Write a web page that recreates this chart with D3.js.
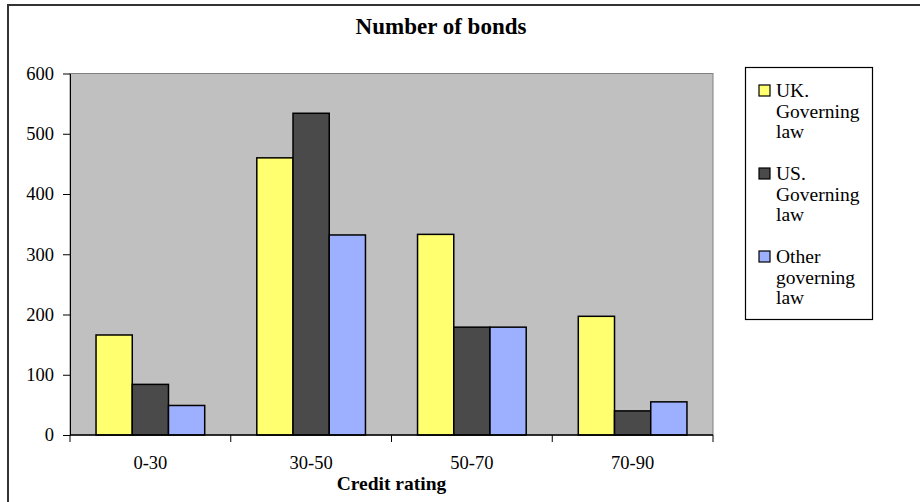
<!DOCTYPE html>
<html lang="en">
<head>
    <meta charset="UTF-8">
    <title>Number of bonds</title>
    <script src="https://d3js.org/d3.v7.min.js"></script>
    <style>
        body { margin: 0; background: #fff; }
        text { font-family: "Liberation Serif", "Times New Roman", serif; fill: #000; }
    </style>
</head>
<body>
    <svg id="chart" width="920" height="502"></svg>

    <script>
        // Data
        const categories = ["0-30", "30-50", "50-70", "70-90"];
        const seriesKeys = ["uk", "us", "other"];
        const seriesLabels = [
            ["UK.", "Governing", "law"],
            ["US.", "Governing", "law"],
            ["Other", "governing", "law"]
        ];
        const ukValues = [166, 460, 333, 197];
        const usValues = [84, 534, 179, 40];
        const otherValues = [49, 332, 179, 55];
        const yTicks = [0, 100, 200, 300, 400, 500, 600];

        const valuesByKey = { uk: ukValues, us: usValues, other: otherValues };
        const fills = { uk: "#ffff70", us: "#4a4a4a", other: "#9db0ff" };

        const svg = d3.select("#chart");

        // outer frame (only top and left edges are visible)
        svg.append("rect")
            .attr("x", 8).attr("y", 5)
            .attr("width", 1000).attr("height", 1000)
            .attr("fill", "none")
            .attr("stroke", "#333")
            .attr("stroke-width", 2);

        const plot = { left: 70, right: 713, top: 73.5, bottom: 435 };

        const y = d3.scaleLinear()
            .domain([0, 600])
            .range([plot.bottom, plot.top]);

        const pad = 0.324;
        const x0 = d3.scaleBand()
            .domain(categories)
            .range([plot.left, plot.right])
            .paddingInner(pad)
            .paddingOuter(pad / 2);

        const x1 = d3.scaleBand()
            .domain(seriesKeys)
            .range([0, x0.bandwidth()]);

        // plot area
        svg.append("rect")
            .attr("x", plot.left)
            .attr("y", plot.top)
            .attr("width", plot.right - plot.left)
            .attr("height", plot.bottom - plot.top)
            .attr("fill", "#c0c0c0")
            .attr("stroke", "#808080")
            .attr("stroke-width", 1);

        // bars
        const groups = svg.append("g")
            .selectAll("g")
            .data(categories)
            .enter().append("g")
            .attr("transform", d => `translate(${x0(d)},0)`);

        groups.selectAll("rect")
            .data((c, i) => seriesKeys.map(k => ({ key: k, value: valuesByKey[k][i] })))
            .enter().append("rect")
            .attr("x", d => x1(d.key))
            .attr("y", d => y(d.value))
            .attr("width", x1.bandwidth())
            .attr("height", d => y(0) - y(d.value))
            .attr("fill", d => fills[d.key])
            .attr("stroke", "#000")
            .attr("stroke-width", 1.5);

        // y axis
        const yAxis = d3.axisLeft(y)
            .tickValues(yTicks)
            .tickSize(7)
            .tickPadding(9)
            .tickSizeOuter(0);

        const gy = svg.append("g")
            .attr("transform", `translate(${plot.left},0)`)
            .call(yAxis);
        gy.selectAll("text").style("font-size", "18.5px");
        gy.select(".domain").attr("stroke", "#000");

        // x axis: labels centred on bands, ticks on band boundaries
        const xAxis = d3.axisBottom(x0).tickSize(0).tickPadding(21);
        const gx = svg.append("g")
            .attr("transform", `translate(0,${plot.bottom})`)
            .call(xAxis);
        gx.select(".domain").remove();
        gx.selectAll("text").style("font-size", "18.5px");

        const boundaries = categories.map(c => x0(c) - x0.step() * pad / 2).concat([plot.right]);
        svg.append("line")
            .attr("x1", plot.left).attr("x2", plot.right)
            .attr("y1", plot.bottom).attr("y2", plot.bottom)
            .attr("stroke", "#000").attr("stroke-width", 1.5);
        svg.append("g")
            .selectAll("line")
            .data(boundaries)
            .enter().append("line")
            .attr("x1", d => d).attr("x2", d => d)
            .attr("y1", plot.bottom).attr("y2", plot.bottom + 7)
            .attr("stroke", "#000");

        // title and axis title
        svg.append("text")
            .attr("x", 441)
            .attr("y", 34)
            .attr("text-anchor", "middle")
            .style("font-size", "23px")
            .style("font-weight", "bold")
            .text("Number of bonds");

        svg.append("text")
            .attr("x", (plot.left + plot.right) / 2)
            .attr("y", 490)
            .attr("text-anchor", "middle")
            .style("font-size", "19.5px")
            .style("font-weight", "bold")
            .text("Credit rating");

        // legend
        const legend = svg.append("g");
        legend.append("rect")
            .attr("x", 745.5).attr("y", 67.5)
            .attr("width", 127).attr("height", 252)
            .attr("fill", "#fff")
            .attr("stroke", "#000")
            .attr("stroke-width", 1.2);

        const items = legend.selectAll("g.item")
            .data(seriesKeys)
            .enter().append("g")
            .attr("class", "item")
            .attr("transform", (d, i) => `translate(759,${85 + i * 83})`);

        items.append("rect")
            .attr("width", 11).attr("height", 11)
            .attr("fill", d => fills[d])
            .attr("stroke", "#000")
            .attr("stroke-width", 1.2);

        items.each(function (d, i) {
            const t = d3.select(this).append("text")
                .attr("x", 17)
                .attr("y", 11.7)
                .style("font-size", "19.5px");
            seriesLabels[i].forEach((line, j) => {
                t.append("tspan")
                    .attr("x", 17)
                    .attr("dy", j === 0 ? 0 : 20.8)
                    .text(line);
            });
        });
    </script>
</body>
</html>
